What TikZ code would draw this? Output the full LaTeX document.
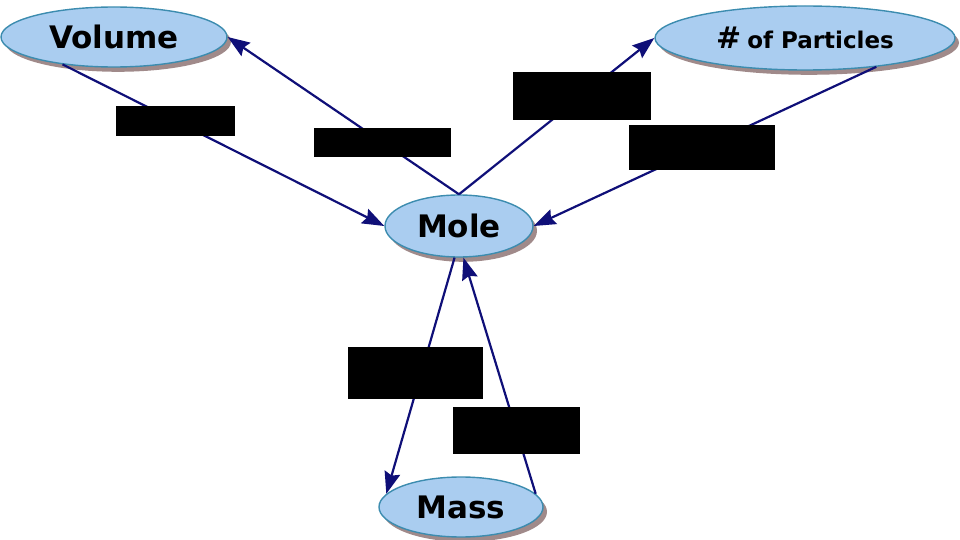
\documentclass[tikz,border=0pt]{standalone}
\usepackage{fontspec}
\newfontfamily\conceptfont{DejaVu Sans}
\usetikzlibrary{arrows.meta,shapes.geometric,shadows}
\definecolor{bubble}{RGB}{170,205,240}
\definecolor{rim}{RGB}{60,140,175}
\definecolor{link}{RGB}{15,15,120}
\definecolor{shade}{RGB}{150,125,125}

\begin{document}
\begin{tikzpicture}[x=0.5pt,y=-0.5pt,>={Stealth[length=11pt,width=8pt,inset=1.5pt]},
 concept/.style={ellipse,draw=rim,line width=0.7pt,fill=bubble,inner sep=0pt,
  drop shadow={shadow xshift=2pt,shadow yshift=-2.4pt,fill=shade,opacity=0.9},
  font=\conceptfont\bfseries\fontsize{15.5}{18}\selectfont},
 arr/.style={->,draw=link,line width=1.1pt},
 hidden/.style={fill=black,inner sep=0pt}]
\useasboundingbox (0,0) rectangle (960,540);
\node[concept,minimum width=113pt,minimum height=30pt] (vol) at (114,37) {Volume};
\node[concept,minimum width=150pt,minimum height=32pt] (part) at (805,38)
 {{\fontsize{15}{18}\selectfont\#}\hspace{3pt}{\fontsize{11.5}{14}\selectfont of Particles}};
\node[concept,minimum width=74pt,minimum height=31pt] (mole) at (459,226) {Mole};
\node[concept,minimum width=82pt,minimum height=30pt] (mass) at (461,507) {Mass};
\draw[arr] (vol.208) -- node[hidden,pos=0.35,minimum width=59.5pt,minimum height=15pt] (lab1) {} (mole.west);
\draw[arr] (mole.north) -- node[hidden,pos=0.33,minimum width=68.5pt,minimum height=14.5pt] (lab2) {} (vol.east);
\draw[arr] (mole.north) -- node[hidden,pos=0.63,minimum width=69pt,minimum height=24pt] (lab3) {} (part.west);
\draw[arr] (part.-22) -- node[hidden,pos=0.51,minimum width=73pt,minimum height=22.5pt] (lab4) {} (mole.east);
\draw[arr] (mole.262) -- node[hidden,pos=0.49,xshift=-3pt,minimum width=67.5pt,minimum height=26pt] (lab5) {} (mass.170);
\draw[arr] (mass.10) -- node[hidden,pos=0.27,minimum width=63.5pt,minimum height=23.5pt] (lab6) {} (mole.278);
\end{tikzpicture}
\end{document}
